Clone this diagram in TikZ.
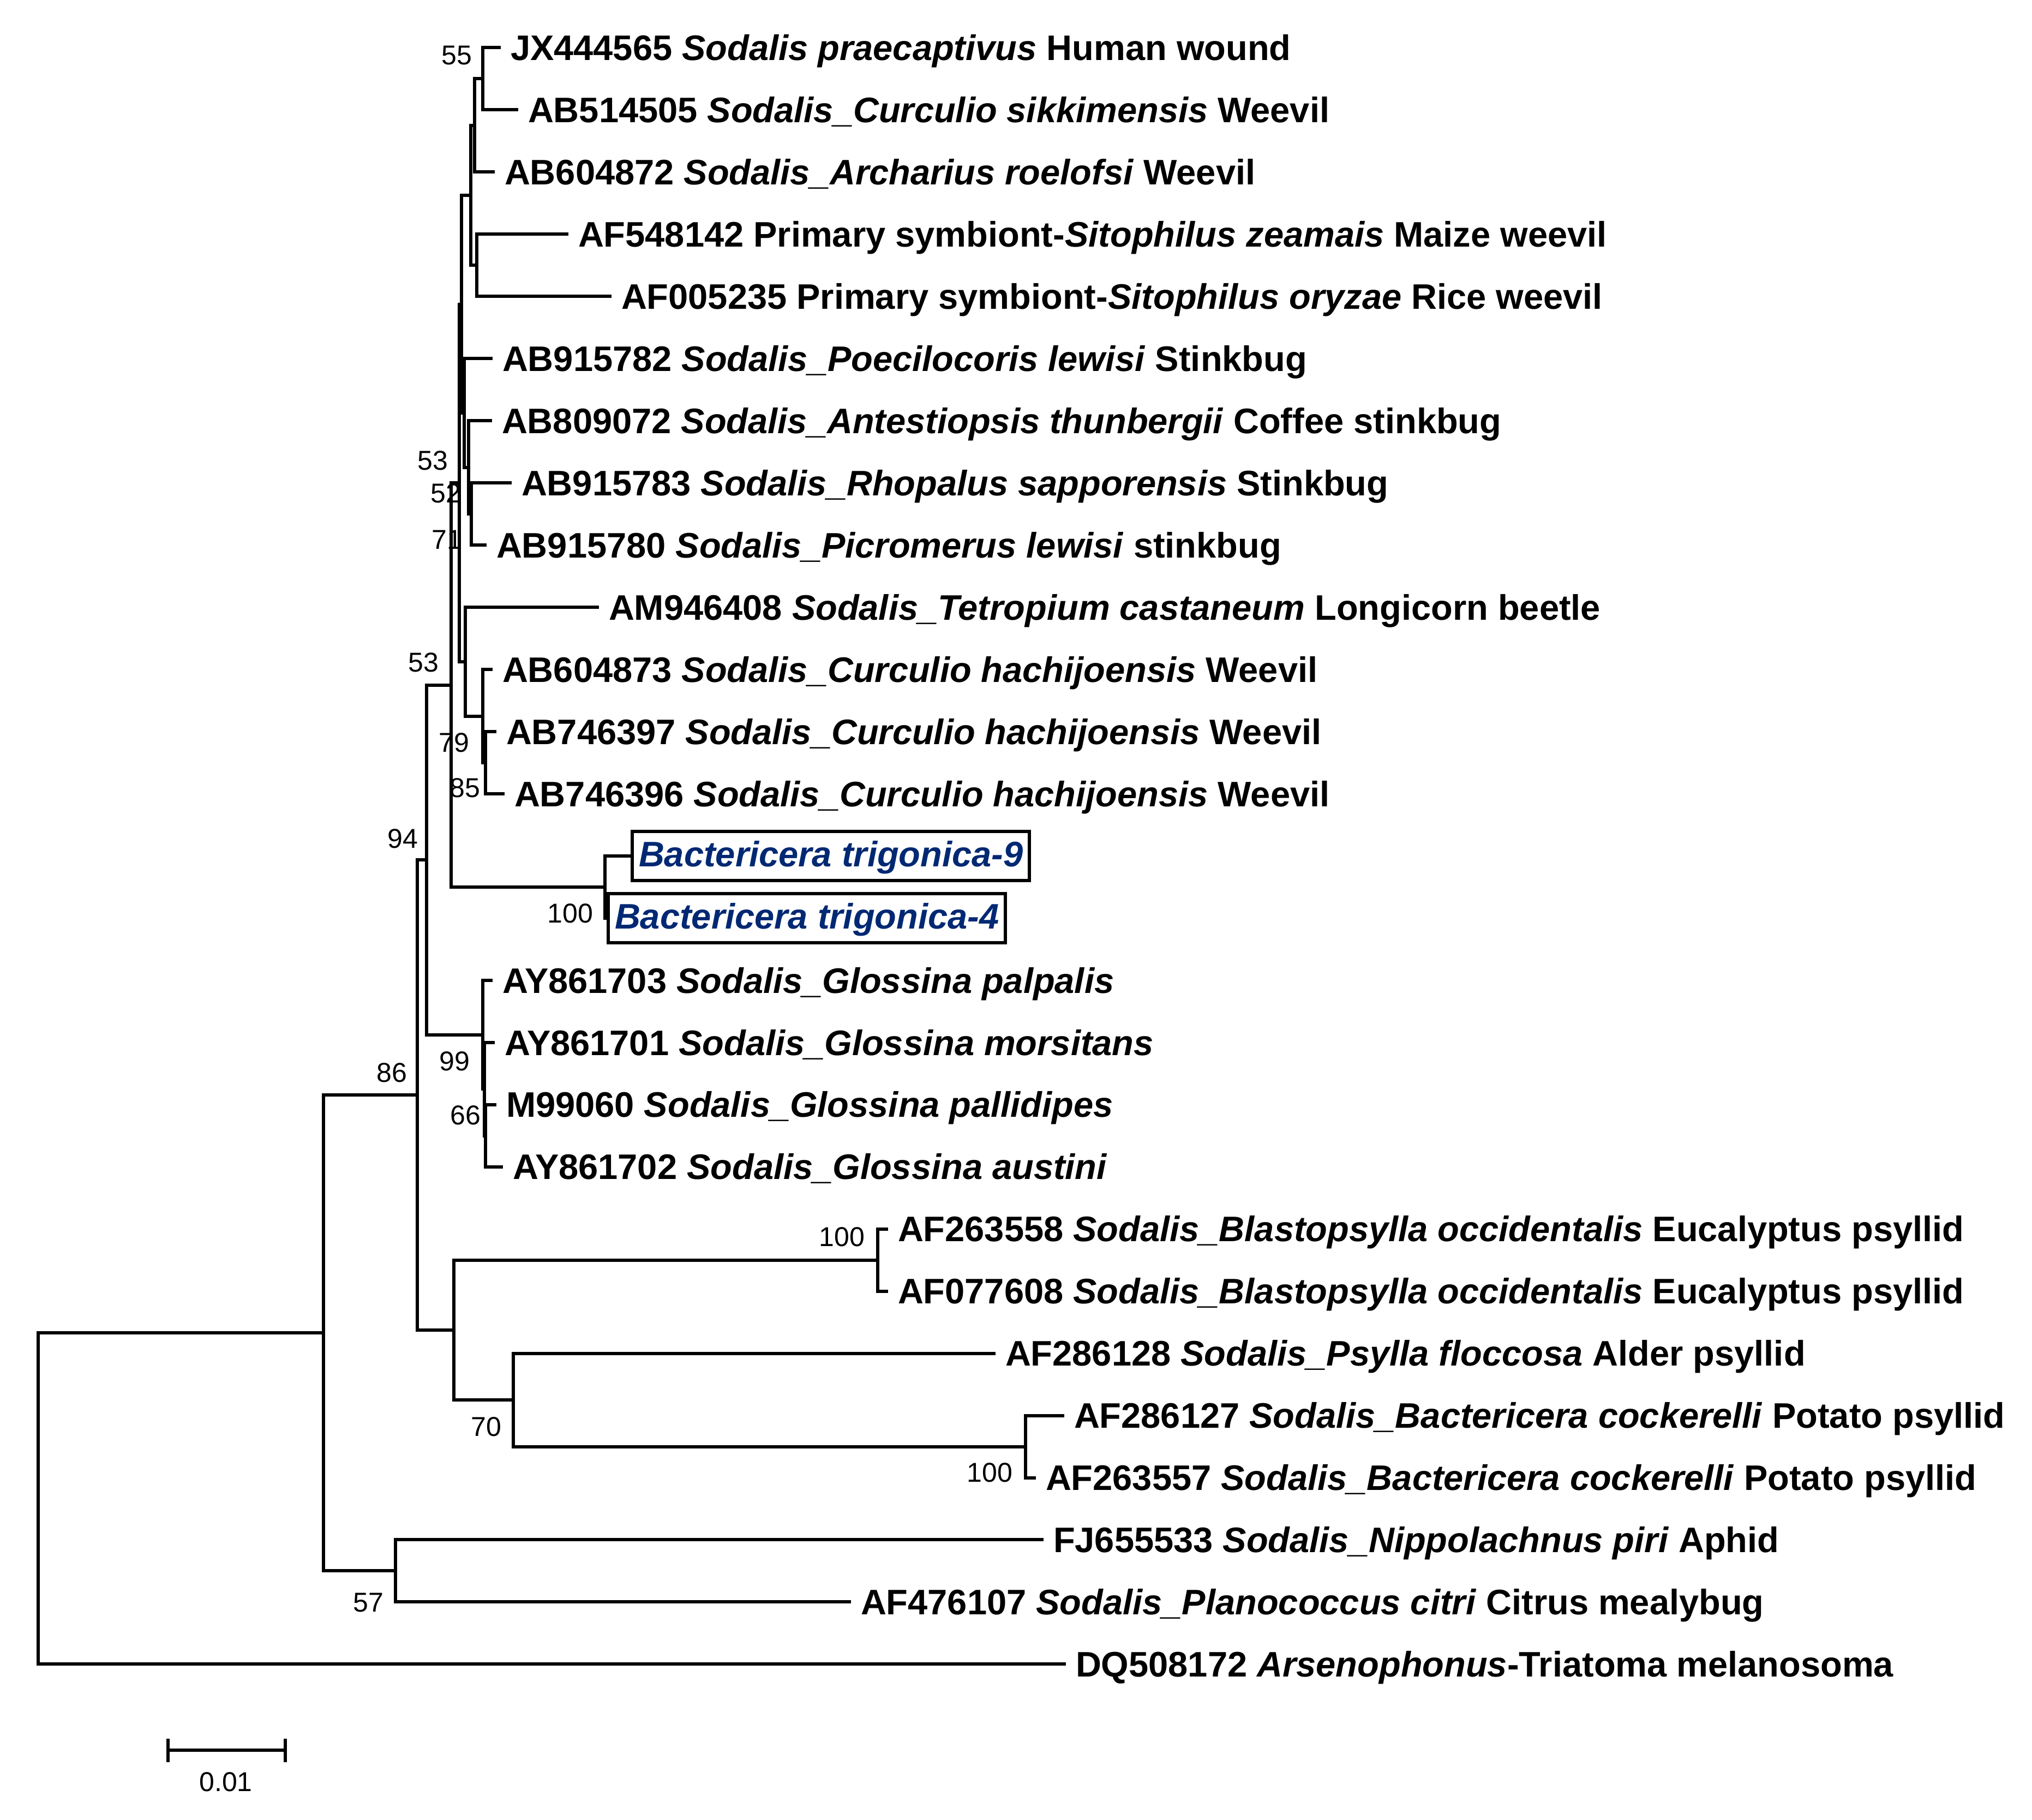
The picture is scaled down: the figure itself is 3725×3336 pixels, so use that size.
\documentclass[tikz,border=0pt]{standalone}
\usepackage{fontspec}
\setmainfont{Liberation Sans}
\usepackage{xcolor}
\usepackage{tikz}
\definecolor{trigblue}{RGB}{0,40,115}

\begin{document}
\begin{tikzpicture}[x=0.2pt,y=-0.2pt,
    leaf/.style={anchor=west,inner xsep=3pt,inner ysep=0pt,text height=9.3pt,text depth=0pt,
        font=\fontsize{13}{15}\selectfont\bfseries},
    trig/.style={draw=black,line width=1.2pt,anchor=west,inner xsep=2.4pt,inner ysep=3.7pt,
        text height=9.3pt,text depth=1.3pt,text=trigblue,font=\fontsize{13}{15}\selectfont\bfseries\itshape},
    boot/.style={anchor=east,inner sep=0pt,text height=7.2pt,text depth=0pt,
        font=\fontsize{10}{12}\selectfont}]
\useasboundingbox (0,0) rectangle (3725,3336);
\begin{scope}[line width=1.2pt]

    % leaves
    \node[leaf] (jx)  at (918,87.4)    {JX444565 \textit{Sodalis praecaptivus} Human wound};
    \node[leaf] (ab2) at (950,201.4)   {AB514505 \textit{Sodalis\_Curculio sikkimensis} Weevil};
    \node[leaf] (ab3) at (907,315.3)   {AB604872 \textit{Sodalis\_Archarius roelofsi} Weevil};
    \node[leaf] (af4) at (1042,429.3)  {AF548142 Primary symbiont-\textit{Sitophilus zeamais} Maize weevil};
    \node[leaf] (af5) at (1121,543.2)  {AF005235 Primary symbiont-\textit{Sitophilus oryzae} Rice weevil};
    \node[leaf] (ab6) at (903,657.2)   {AB915782 \textit{Sodalis\_Poecilocoris lewisi} Stinkbug};
    \node[leaf] (ab7) at (902,771.2)   {AB809072 \textit{Sodalis\_Antestiopsis thunbergii} Coffee stinkbug};
    \node[leaf] (ab8) at (938,885.1)   {AB915783 \textit{Sodalis\_Rhopalus sapporensis} Stinkbug};
    \node[leaf] (ab9) at (892,999.1)   {AB915780 \textit{Sodalis\_Picromerus lewisi} stinkbug};
    \node[leaf] (am10) at (1098,1113)  {AM946408 \textit{Sodalis\_Tetropium castaneum} Longicorn beetle};
    \node[leaf] (ab11) at (903,1227)   {AB604873 \textit{Sodalis\_Curculio hachijoensis} Weevil};
    \node[leaf] (ab12) at (910,1341)   {AB746397 \textit{Sodalis\_Curculio hachijoensis} Weevil};
    \node[leaf] (ab13) at (925,1454.9) {AB746396 \textit{Sodalis\_Curculio hachijoensis} Weevil};
    \node[trig] (bt9) at (1156,1568.9) {Bactericera trigonica-9};
    \node[trig] (bt4) at (1112,1682.8) {Bactericera trigonica-4};
    \node[leaf] (ay16) at (903,1796.8)  {AY861703 \textit{Sodalis\_Glossina palpalis}};
    \node[leaf] (ay17) at (907,1910.8)  {AY861701 \textit{Sodalis\_Glossina morsitans}};
    \node[leaf] (m18)  at (910,2024.7)  {M99060 \textit{Sodalis\_Glossina pallidipes}};
    \node[leaf] (ay19) at (922,2138.7)  {AY861702 \textit{Sodalis\_Glossina austini}};
    \node[leaf] (af20) at (1628,2252.6) {AF263558 \textit{Sodalis\_Blastopsylla occidentalis} Eucalyptus psyllid};
    \node[leaf] (af21) at (1628,2366.6) {AF077608 \textit{Sodalis\_Blastopsylla occidentalis} Eucalyptus psyllid};
    \node[leaf] (af22) at (1825,2480.6) {AF286128 \textit{Sodalis\_Psylla floccosa} Alder psyllid};
    \node[leaf] (af23) at (1951,2594.5) {AF286127 \textit{Sodalis\_Bactericera cockerelli} Potato psyllid};
    \node[leaf] (af24) at (1899,2708.5) {AF263557 \textit{Sodalis\_Bactericera cockerelli} Potato psyllid};
    \node[leaf] (fj25) at (1913,2822.4) {FJ655533 \textit{Sodalis\_Nippolachnus piri} Aphid};
    \node[leaf] (af26) at (1560,2936.4) {AF476107 \textit{Sodalis\_Planococcus citri} Citrus mealybug};
    \node[leaf] (dq27) at (1954,3050.4) {DQ508172 \textit{Arsenophonus}-Triatoma melanosoma};

    % internal nodes
    \coordinate (n55)  at (885,144.4);
    \coordinate (nB)   at (870,229.9);
    \coordinate (nD)   at (874,486.3);
    \coordinate (nC)   at (863,358.1);
    \coordinate (nF)   at (864,942.1);
    \coordinate (nG)   at (859,856.7);
    \coordinate (nH)   at (851,757);
    \coordinate (nE)   at (846,557.6);
    \coordinate (nM)   at (890,1398);
    \coordinate (nL)   at (885,1312.5);
    \coordinate (nK)   at (853,1212.8);
    \coordinate (n52)  at (841.7,885.2);
    \coordinate (nTrig) at (1109,1625.9);
    \coordinate (n53)  at (826.7,1255.6);
    \coordinate (nW)   at (890,2081.7);
    \coordinate (nV)   at (888,1996.3);
    \coordinate (nU)   at (885,1896.6);
    \coordinate (n94)  at (781.7,1576.1);
    \coordinate (nQ)   at (1608.6,2309.6);
    \coordinate (nS)   at (1880,2651.5);
    \coordinate (nR)   at (940.7,2566.1);
    \coordinate (nP)   at (832,2437.9);
    \coordinate (n86)  at (765,2007);
    \coordinate (nT)   at (725,2879.4);
    \coordinate (nBig) at (593,2443.2);
    \coordinate (nRoot) at (70,2746.8);

    % branches
    \draw (jx.west) -| (n55) |- (ab2.west);
    \draw (n55) -| (nB) |- (ab3.west);
    \draw (af4.west) -| (nD) |- (af5.west);
    \draw (nB) -| (nC) |- (nD);
    \draw (ab8.west) -| (nF) |- (ab9.west);
    \draw (ab7.west) -| (nG) |- (nF);
    \draw (ab6.west) -| (nH) |- (nG);
    \draw (nC) -| (nE) |- (nH);
    \draw (ab12.west) -| (nM) |- (ab13.west);
    \draw (ab11.west) -| (nL) |- (nM);
    \draw (am10.west) -| (nK) |- (nL);
    \draw (nE) -| (n52) |- (nK);
    \draw (bt9.west) -| (nTrig) |- (bt4.west);
    \draw (n52) -| (n53) |- (nTrig);
    \draw (m18.west) -| (nW) |- (ay19.west);
    \draw (ay17.west) -| (nV) |- (nW);
    \draw (ay16.west) -| (nU) |- (nV);
    \draw (n53) -| (n94) |- (nU);
    \draw (af20.west) -| (nQ) |- (af21.west);
    \draw (af23.west) -| (nS) |- (af24.west);
    \draw (af22.west) -| (nR) |- (nS);
    \draw (nQ) -| (nP) |- (nR);
    \draw (n94) -| (n86) |- (nP);
    \draw (fj25.west) -| (nT) |- (af26.west);
    \draw (n86) -| (nBig) |- (nT);
    \draw (nBig) -| (nRoot) |- (dq27.west);

    % bootstrap values
    \node[boot] (b55)  at (868,100)   {55};
    \node[boot] (b53a) at (824,843)   {53};
    \node[boot] (b52)  at (848,903)   {52};
    \node[boot] (b71)  at (850,988)   {71};
    \node[boot] (b53b) at (807,1213)  {53};
    \node[boot] (b79)  at (863,1360)  {79};
    \node[boot] (b85)  at (883,1443)  {85};
    \node[boot] (b94)  at (769,1536)  {94};
    \node[boot] (b100a) at (1090,1673) {100};
    \node[boot] (b99)  at (864,1944)  {99};
    \node[boot] (b66)  at (884,2043)  {66};
    \node[boot] (b86)  at (749,1965)  {86};
    \node[boot] (b100b) at (1588,2266) {100};
    \node[boot] (b70)  at (922,2614)  {70};
    \node[boot] (b100c) at (1859,2698) {100};
    \node[boot] (b57)  at (706,2936)  {57};

    % scale bar
    \coordinate (sbL) at (308,3208);
    \coordinate (sbR) at (523,3208);
    \draw[line width=1.2pt] (sbL) -- (sbR);
    \draw[line width=1.3pt] (308,3187) -- (308,3230);
    \draw[line width=1.3pt] (523,3187) -- (523,3230);
    \node[boot,anchor=north] (sbtext) at (414,3244) {0.01};

\end{scope}
\end{tikzpicture}
\end{document}
